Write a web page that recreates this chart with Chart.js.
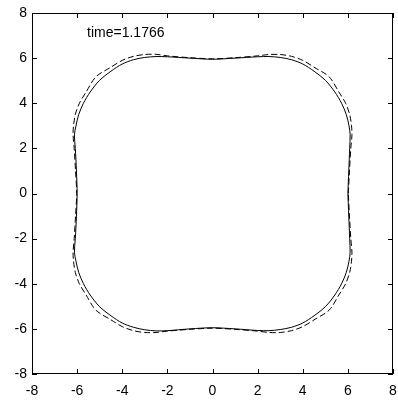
<!DOCTYPE html>
<html>
<head>
<meta charset="utf-8">
<script src="https://cdn.jsdelivr.net/npm/chart.js@4.4.1/dist/chart.umd.min.js"></script>
<style>
  html, body { margin: 0; padding: 0; background: #fff; }
  #wrap { width: 398px; height: 402px; }
</style>
</head>
<body>
<div id="wrap"><canvas id="front"></canvas></div>
<script>
// interface at the current step (solid) and the reference shape (dashed)
const solidPts = [
  [6.00, 0], [6.04, 1], [6.08, 2], [6.10, 2.6], [6.05, 3], [5.93, 3.5], [5.72, 4], [5.42, 4.5],
  [5.01, 5.01], [4.5, 5.42], [4.0, 5.74], [3.5, 5.93], [3.0, 6.03], [2.5, 6.07], [2.0, 6.06], [1.0, 6.0],
  [0, 5.95], [-1.0, 6.0], [-2.0, 6.06], [-2.5, 6.07], [-3.0, 6.03], [-3.5, 5.93], [-4.0, 5.74], [-4.5, 5.42],
  [-5.01, 5.01], [-5.42, 4.5], [-5.72, 4], [-5.93, 3.5], [-6.05, 3], [-6.12, 2.6], [-6.08, 2], [-6.03, 1],
  [-6.00, 0], [-6.03, -1], [-6.08, -2], [-6.12, -2.6], [-6.05, -3], [-5.93, -3.5], [-5.72, -4], [-5.42, -4.5],
  [-5.01, -5.01], [-4.5, -5.42], [-4.0, -5.74], [-3.5, -5.93], [-3.0, -6.04], [-2.5, -6.09], [-2.0, -6.08], [-1.0, -6.0],
  [0, -5.95], [1.0, -6.0], [2.0, -6.07], [2.5, -6.08], [3.0, -6.03], [3.5, -5.93], [4.0, -5.74], [4.5, -5.42],
  [5.01, -5.01], [5.42, -4.5], [5.72, -4], [5.93, -3.5], [6.05, -3], [6.10, -2.6], [6.08, -2], [6.04, -1],
  [6.00, 0]
];

const dashedPts = [
  [6.02, 0], [6.07, 1], [6.13, 2], [6.18, 2.6], [6.16, 3], [6.08, 3.5], [5.90, 4], [5.60, 4.5],
  [5.17, 5.17], [4.5, 5.60], [4.0, 5.90], [3.5, 6.08], [3.0, 6.16], [2.5, 6.16], [2.0, 6.10], [1.0, 6.02],
  [0, 5.97], [-1.0, 6.02], [-2.0, 6.10], [-2.5, 6.17], [-3.0, 6.16], [-3.5, 6.08], [-4.0, 5.90], [-4.5, 5.60],
  [-5.17, 5.17], [-5.60, 4.5], [-5.90, 4], [-6.08, 3.5], [-6.16, 3], [-6.18, 2.6], [-6.13, 2], [-6.07, 1],
  [-6.02, 0], [-6.07, -1], [-6.13, -2], [-6.18, -2.6], [-6.16, -3], [-6.08, -3.5], [-5.90, -4], [-5.60, -4.5],
  [-5.17, -5.17], [-4.5, -5.60], [-4.0, -5.90], [-3.5, -6.08], [-3.0, -6.16], [-2.5, -6.16], [-2.0, -6.10], [-1.0, -6.02],
  [0, -5.97], [1.0, -6.02], [2.0, -6.10], [2.5, -6.16], [3.0, -6.16], [3.5, -6.08], [4.0, -5.90], [4.5, -5.60],
  [5.17, -5.17], [5.60, -4.5], [5.90, -4], [6.08, -3.5], [6.16, -3], [6.18, -2.6], [6.13, -2], [6.07, -1],
  [6.02, 0]
];

const axisMin = -8;
const axisMax = 8;
const tickStep = 2;
const timeLabel = 'time=1.1766';
const labelAt = [-5.56, 6.94];

const FONT = 'Liberation Sans, Arial, Helvetica, sans-serif';

// MATLAB-style frame: full box with ticks pointing inward
const boxTicks = {
  id: 'boxTicks',
  afterDraw(chart) {
    const { ctx, chartArea: a, scales } = chart;
    const len = 5;
    ctx.save();
    ctx.strokeStyle = '#000';
    ctx.lineWidth = 1;
    ctx.strokeRect(a.left + 0.5, a.top + 0.5, a.right - a.left - 1, a.bottom - a.top - 1);
    ctx.beginPath();
    scales.x.ticks.forEach(t => {
      const px = Math.round(scales.x.getPixelForValue(t.value)) + 0.5;
      ctx.moveTo(px, a.bottom); ctx.lineTo(px, a.bottom - len);
      ctx.moveTo(px, a.top); ctx.lineTo(px, a.top + len);
    });
    scales.y.ticks.forEach(t => {
      const py = Math.round(scales.y.getPixelForValue(t.value)) + 0.5;
      ctx.moveTo(a.left, py); ctx.lineTo(a.left + len, py);
      ctx.moveTo(a.right, py); ctx.lineTo(a.right - len, py);
    });
    ctx.stroke();

    ctx.fillStyle = '#000';
    ctx.font = '14px ' + FONT;
    ctx.textAlign = 'left';
    ctx.textBaseline = 'alphabetic';
    ctx.fillText(timeLabel, scales.x.getPixelForValue(labelAt[0]), scales.y.getPixelForValue(labelAt[1]));
    ctx.restore();
  }
};

const tickFont = { family: FONT, size: 14 };

// drop the extra room Chart.js keeps for the end tick labels
function noEdgePadding(s) {
  s.paddingLeft = 0;
  s.paddingRight = 0;
  s.paddingTop = 0;
  s.paddingBottom = 0;
}

new Chart(document.getElementById('front'), {
  type: 'scatter',
  data: {
    datasets: [
      {
        data: dashedPts.map(p => ({ x: p[0], y: p[1] })),
        showLine: true,
        borderColor: '#000',
        borderWidth: 1,
        borderDash: [6, 3],
        pointRadius: 0,
        tension: 0.3
      },
      {
        data: solidPts.map(p => ({ x: p[0], y: p[1] })),
        showLine: true,
        borderColor: '#000',
        borderWidth: 1,
        pointRadius: 0,
        tension: 0.3
      }
    ]
  },
  options: {
    responsive: true,
    maintainAspectRatio: false,
    animation: false,
    layout: { padding: { top: 13, right: 5, left: 0, bottom: 0 } },
    plugins: { legend: { display: false }, tooltip: { enabled: false } },
    scales: {
      x: {
        type: 'linear',
        min: axisMin, max: axisMax,
        grid: { display: false, drawTicks: false },
        border: { display: false },
        ticks: { stepSize: tickStep, color: '#000', font: tickFont, padding: 9, maxRotation: 0 },
        afterFit(s) { s.height = 28; noEdgePadding(s); }
      },
      y: {
        type: 'linear',
        min: axisMin, max: axisMax,
        grid: { display: false, drawTicks: false },
        border: { display: false },
        ticks: { stepSize: tickStep, color: '#000', font: tickFont, padding: 5 },
        afterFit(s) { s.width = 32; noEdgePadding(s); }
      }
    }
  },
  plugins: [boxTicks]
});
</script>
</body>
</html>
